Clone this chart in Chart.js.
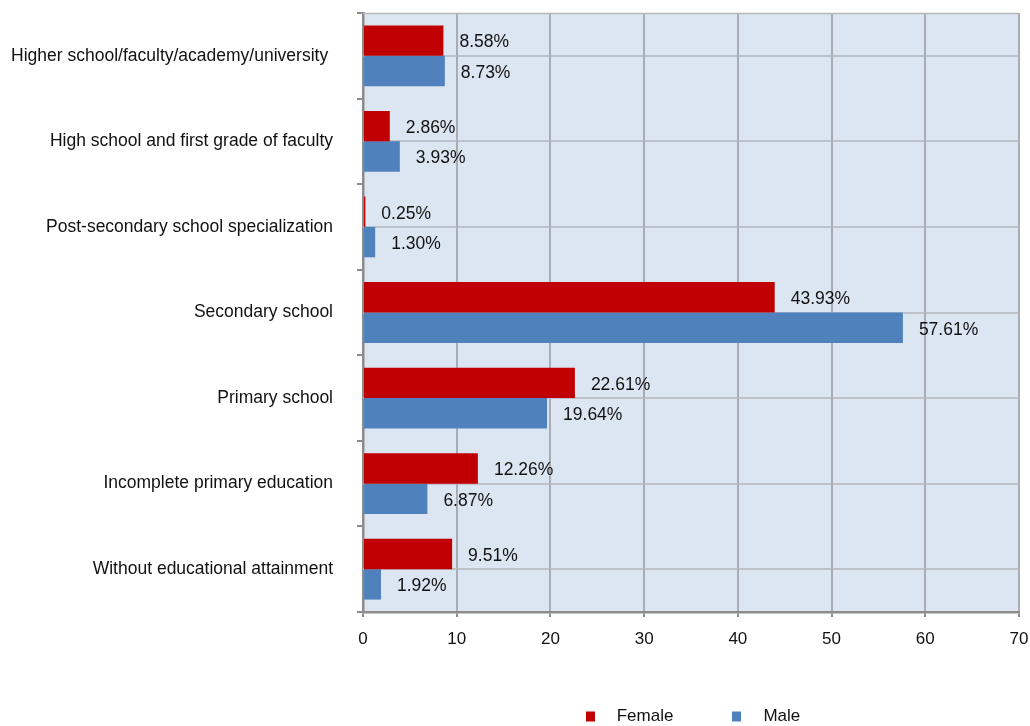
<!DOCTYPE html>
<html><head><meta charset="utf-8">
<script src="https://cdn.jsdelivr.net/npm/chart.js@4.4.1/dist/chart.umd.min.js"></script>
<style>html,body{margin:0;padding:0;background:#fff;}</style>
</head><body>
<canvas id="c" width="1030" height="726" style="display:block;width:1030px;height:726px"></canvas>
<script>
const categories = [
  "Higher school/faculty/academy/university ",
  "High school and first grade of faculty",
  "Post-secondary school specialization",
  "Secondary school",
  "Primary school",
  "Incomplete primary education",
  "Without educational attainment"
];
const seriesNames = ["Female", "Male"];
const femaleValues = [8.58, 2.86, 0.25, 43.93, 22.61, 12.26, 9.51];
const maleValues = [8.73, 3.93, 1.30, 57.61, 19.64, 6.87, 1.92];
const xTickValues = [0, 10, 20, 30, 40, 50, 60, 70];
const seriesColors = ["#C00000", "#4F81BD"];

const FONT = "'Liberation Sans', Arial, sans-serif";

const bgPlugin = {
  id: 'bg',
  beforeDraw(chart) {
    const {ctx, chartArea: a} = chart;
    ctx.save();
    ctx.fillStyle = '#DCE6F2';
    ctx.fillRect(a.left, a.top, a.right - a.left, a.bottom - a.top);
    ctx.restore();
  },
  beforeDatasetsDraw(chart) {
    const {ctx, chartArea: a} = chart;
    const y = chart.scales.y;
    ctx.save();
    ctx.strokeStyle = '#B3B7BD';
    ctx.lineWidth = 1.5;
    ctx.beginPath();
    for (let i = 0; i < y.ticks.length; i++) {
      const py = Math.round(y.getPixelForTick(i));
      ctx.moveTo(a.left, py); ctx.lineTo(a.right, py);
    }
    ctx.moveTo(a.left, a.top + 0.5); ctx.lineTo(a.right, a.top + 0.5);
    ctx.stroke();
    ctx.restore();
  }
};

const labelPlugin = {
  id: 'vals',
  afterDatasetsDraw(chart) {
    const ctx = chart.ctx;
    ctx.save();
    ctx.font = "17.5px " + FONT;
    ctx.fillStyle = '#111';
    ctx.textAlign = 'left';
    ctx.textBaseline = 'middle';
    chart.data.datasets.forEach((ds, i) => {
      chart.getDatasetMeta(i).data.forEach((bar, j) => {
        ctx.fillText(ds.data[j].toFixed(2) + '%', bar.x + 16, bar.y + 2);
      });
    });
    ctx.restore();
  }
};

const legendPlugin = {
  id: 'customLegend',
  afterDraw(chart) {
    const ctx = chart.ctx;
    const a = chart.chartArea;
    ctx.save();
    ctx.font = "17px " + FONT;
    ctx.textBaseline = 'middle';
    const box = 9, gapText = 22, gapItem = 59;
    const ds = chart.data.datasets;
    let total = 0;
    ds.forEach((d, i) => { total += box + gapText + ctx.measureText(d.label).width + (i < ds.length - 1 ? gapItem : 0); });
    let x = (a.left + a.right) / 2 - total / 2 + 2;
    const cy = 716.5;
    ds.forEach((d, i) => {
      ctx.fillStyle = d.backgroundColor;
      ctx.fillRect(Math.round(x), cy - 5, box, box + 1);
      ctx.fillStyle = '#111';
      ctx.fillText(d.label, x + box + gapText, cy);
      x += box + gapText + ctx.measureText(d.label).width + gapItem;
    });
    ctx.restore();
  }
};

new Chart(document.getElementById('c'), {
  type: 'bar',
  data: {
    labels: categories,
    datasets: [
      {label: seriesNames[0], data: femaleValues, backgroundColor: seriesColors[0], borderWidth: 0},
      {label: seriesNames[1], data: maleValues, backgroundColor: seriesColors[1], borderWidth: 0}
    ]
  },
  options: {
    indexAxis: 'y',
    responsive: false,
    animation: false,
    devicePixelRatio: 1,
    categoryPercentage: 0.71,
    barPercentage: 1.0,
    layout: {padding: {top: 13, right: 11, bottom: 70, left: 0}},
    plugins: {legend: {display: false}, tooltip: {enabled: false}},
    scales: {
      x: {
        type: 'linear', min: 0, max: 70,
        afterBuildTicks(s) { s.ticks = xTickValues.map(v => ({value: v})); },
        ticks: {color: '#111', font: {family: FONT, size: 17}, padding: 12},
        grid: {color: '#A9ACB2', lineWidth: 2, tickLength: 5, tickColor: '#8C8C8C'},
        border: {color: '#8C8C8C', width: 2.5},
        afterFit(s) { s.height = 44; s.paddingLeft = 0; s.paddingRight = 0; }
      },
      y: {
        type: 'category',
        grid: {offset: true, drawOnChartArea: false, tickLength: 6, color: '#8C8C8C', lineWidth: 2},
        border: {color: '#8C8C8C', width: 2.5},
        ticks: {color: '#111', font: {family: FONT, size: 17.5}, padding: 24, autoSkip: false},
        afterFit(s) { s.width = 363; s.paddingTop = 0; s.paddingBottom = 0; }
      }
    }
  },
  plugins: [bgPlugin, labelPlugin, legendPlugin]
});
</script>
</body></html>
